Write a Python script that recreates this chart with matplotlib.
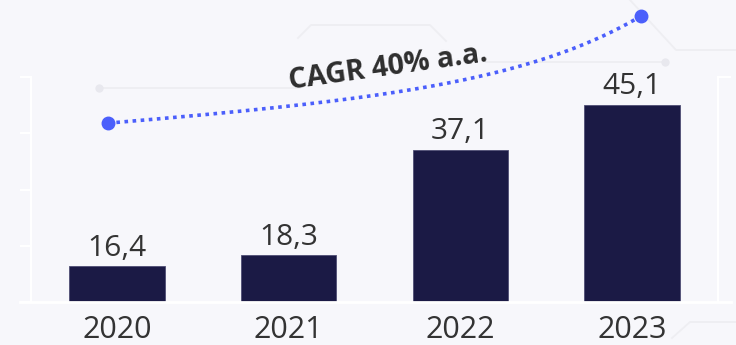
import numpy as np
import matplotlib
matplotlib.use("Agg")
import matplotlib.pyplot as plt
from matplotlib.lines import Line2D

# Market size by year
years = ["2020", "2021", "2022", "2023"]
values = [16.4, 18.3, 37.1, 45.1]
value_labels = ["16,4", "18,3", "37,1", "45,1"]
cagr_label = "CAGR 40% a.a."

# CAGR arrow: start/end in data units and curvature blend
cagr_start = (-0.05, 41.8)
cagr_end = (3.05, 60.8)

BG = "#f7f7fb"
BAR = "#1b1a45"
BLUE = "#4b5ffb"
TEXT = "#333333"
FAINT = "#eeeef2"

W, H = 736, 345
fig = plt.figure(figsize=(W / 100, H / 100), dpi=100)
fig.patch.set_facecolor(BG)


def px(x, y):
    """pixel position (origin top-left) -> figure fraction"""
    return x / W, 1 - y / H


# faint circuit-style background lines
deco = [
    [(298, 38), (311, 25), (430, 25), (446, 41)],
    [(99, 88), (300, 88)],
    [(486, 62), (665, 62)],
    [(630, 0), (676, 50), (736, 50)],
    [(672, 338), (690, 322), (736, 322)],
]
for seg in deco:
    xs, ys = zip(*[px(*p) for p in seg])
    fig.add_artist(Line2D(xs, ys, color=FAINT, lw=1.3, transform=fig.transFigure, zorder=0))
for cx, cy in [(99, 88), (665, 62)]:
    x, y = px(cx, cy)
    fig.add_artist(Line2D([x], [y], marker="o", ms=6, color="#e8e8ee", mec="none",
                          transform=fig.transFigure, zorder=0))

ax_left, ax_right, ax_top, ax_bottom = 31, 718, 77, 302
ax = fig.add_axes([ax_left / W, 1 - ax_bottom / H, (ax_right - ax_left) / W, (ax_bottom - ax_top) / H])
ax.set_facecolor("none")

x = np.arange(len(years))
ax.bar(x, values, width=0.555, bottom=0, color=BAR, edgecolor="#4f4e74", linewidth=0.6, zorder=3)
ax.set_xlim(-0.5, len(years) - 0.5)
ax.set_ylim(10, 50)

for xi, v, lab in zip(x, values, value_labels):
    ax.annotate(lab, (xi, v), xytext=(0, 7.5), textcoords="offset points",
                ha="center", va="baseline", fontsize=21.5, color=TEXT,
                family="Open Sans", zorder=4)

ax.set_xticks(x)
ax.set_xticklabels(years, fontsize=22, color=TEXT, family="Open Sans")
ax.tick_params(axis="x", length=0, pad=9.5)
ax.set_yticks([10, 20, 30, 40, 50])
ax.set_yticklabels([])
ax.tick_params(axis="y", direction="out", length=8, width=1.5, color="white")

for side in ("left", "right"):
    ax.spines[side].set_color("white")
    ax.spines[side].set_linewidth(1.5)
ax.spines["top"].set_visible(False)
ax.spines["bottom"].set_visible(False)

# baseline running past the frame on both sides
bx0, by = px(20, ax_bottom)
bx1, _ = px(731, ax_bottom)
fig.add_artist(Line2D([bx0, bx1], [by, by], color="white", lw=2, transform=fig.transFigure, zorder=1))
# small cap on the right frame
rx0, ry = px(ax_right, ax_top)
rx1, _ = px(730, ax_top)
fig.add_artist(Line2D([rx0, rx1], [ry, ry], color="white", lw=1.5, transform=fig.transFigure, zorder=1))

# CAGR growth curve
t = np.linspace(0, 1, 200)
k = 4.0
rise = 0.37 * t + 0.63 * (np.exp(k * t) - 1) / (np.exp(k) - 1)
cx = cagr_start[0] + (cagr_end[0] - cagr_start[0]) * t
cy = cagr_start[1] + (cagr_end[1] - cagr_start[1]) * rise
ax.plot(cx, cy, color=BLUE, lw=2.6, linestyle=(0, (1, 1.25)), dash_capstyle="butt",
        clip_on=False, zorder=5)
ax.plot([cagr_start[0], cagr_end[0]], [cagr_start[1], cagr_end[1]], linestyle="none",
        marker="o", ms=9, color=BLUE, clip_on=False, zorder=6)

ax.text(1.585, 50.4, cagr_label, rotation=8, rotation_mode="anchor",
        ha="center", va="baseline", fontsize=20.5, fontweight="bold",
        color="#2e2e2e", family="Open Sans", zorder=6)

fig.savefig("out.png", dpi=100, facecolor=BG)
